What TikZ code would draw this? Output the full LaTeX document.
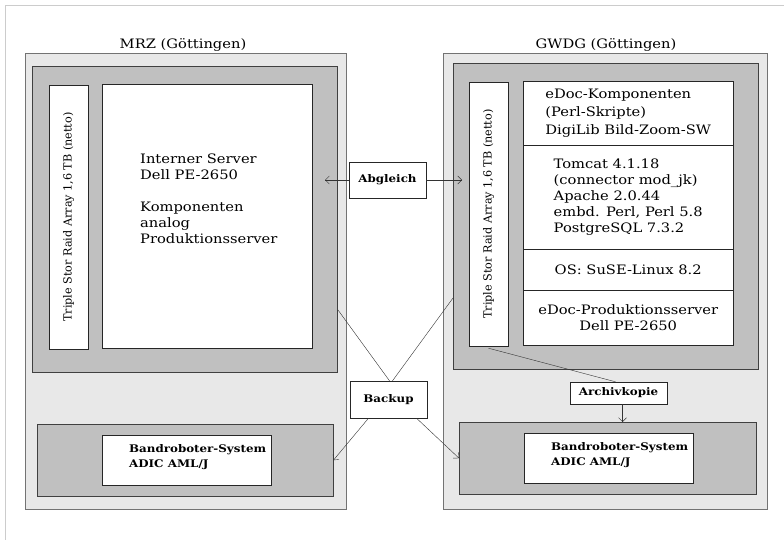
\documentclass[tikz,border=0pt]{standalone}
\usepackage{fontspec}
\setmainfont{DejaVu Serif}[FakeStretch=1.13]
\newfontfamily\storefont{DejaVu Serif}
\usetikzlibrary{arrows.meta}
\definecolor{sitegray}{HTML}{E8E8E8}
\definecolor{rackgray}{HTML}{C0C0C0}

\begin{document}
\begin{tikzpicture}
[x=1pt,y=-1pt,>={Straight Barb[length=4pt,width=8pt]},
every node/.style={font=\fontsize{13}{16}\selectfont},
site/.style={rectangle,draw=black!55,fill=sitegray,anchor=north west,inner sep=0pt},
rack/.style={rectangle,draw=black!75,fill=rackgray,anchor=north west,inner sep=0pt},
panel/.style={rectangle,draw=black!85,fill=white,anchor=north west,inner sep=0pt,align=left},
store/.style={rectangle,draw=black!85,fill=white,inner sep=0pt,rotate=90,minimum height=39pt,font=\storefont\fontsize{11.2}{13}\selectfont},
tag/.style={rectangle,draw=black!85,fill=white,inner sep=0pt,font=\fontsize{10.5}{14}\bfseries\selectfont},
txt/.style={anchor=north west,inner sep=0pt,align=left},
robotxt/.style={txt,font=\fontsize{10.5}{15}\bfseries\selectfont},
link/.style={draw=black!80,thin}]

\useasboundingbox (0,0) rectangle (784,540);
\draw[black!20] (5,540) -- (5,5) -- (784,5);

% MRZ
\node (mrztitle) at (183,45) {MRZ (Göttingen)};
\node[site,minimum width=321pt,minimum height=456pt] (mrz) at (25,53) {};
\node[rack,minimum width=305pt,minimum height=306pt] (mrzrack) at (32,66) {};
\node[store,minimum width=264pt] (mrzstor) at (68.5,217) {Triple Stor Raid Array 1,6 TB (netto)};
\node[panel,minimum width=210pt,minimum height=264pt] (mrzsrv) at (102,84) {};
\node[txt] (mrzsrvtxt) at (140,154) {Interner Server\\Dell PE-2650\\[16pt]Komponenten\\analog\\Produktionsserver};
\node[rack,minimum width=296pt,minimum height=72pt] (mrzband) at (37,424) {};
\node[panel,minimum width=169pt,minimum height=50pt] (mrzrobo) at (102,435) {};
\node[robotxt] (mrzrobotxt) at (129,444) {Bandroboter-System\\ADIC AML/J};

% GWDG
\node (gwdgtitle) at (606,45) {GWDG (Göttingen)};
\node[site,minimum width=324pt,minimum height=456pt] (gwdg) at (443,53) {};
\node[rack,minimum width=305pt,minimum height=306pt] (gwdgrack) at (453,63) {};
\node[store,minimum width=264pt] (gwdgstor) at (488.5,214) {Triple Stor Raid Array 1,6 TB (netto)};
\node[panel,minimum width=210pt,minimum height=64pt,font=\fontsize{13}{18}\selectfont] (comp) at (523,81) {eDoc-Komponenten\\(Perl-Skripte)\\DigiLib Bild-Zoom-SW};
\node[panel,minimum width=210pt,minimum height=104pt] (soft) at (523,145) {Tomcat 4.1.18\\(connector mod\_jk)\\Apache 2.0.44\\embd. Perl, Perl 5.8\\PostgreSQL 7.3.2};
\node[panel,minimum width=210pt,minimum height=41pt] (os) at (523,249) {OS: SuSE-Linux 8.2};
\node[panel,minimum width=210pt,minimum height=55pt,align=center] (prod) at (523,290) {eDoc-Produktionsserver\\Dell PE-2650};
\node[rack,minimum width=297pt,minimum height=72pt] (gwdgband) at (459,422) {};
\node[panel,minimum width=169pt,minimum height=50pt] (gwdgrobo) at (524,433) {};
\node[robotxt] (gwdgrobotxt) at (551,442) {Bandroboter-System\\ADIC AML/J};

% Verbindungen
\node[tag,minimum width=77pt,minimum height=36pt] (abgl) at (387.5,180) {Abgleich};
\node[tag,minimum width=77pt,minimum height=37pt] (backup) at (388.5,399.5) {Backup};
\node[tag,minimum width=97pt,minimum height=22pt] (archiv) at (618.5,393) {Archivkopie};

\coordinate (mrzin) at (325,180);
\coordinate (gwdgin) at (462,180);
\coordinate (mrzout) at (338,310);
\coordinate (gwdgout) at (453,298);

\draw[link,->] (abgl.west) -- (mrzin);
\draw[link,->] (abgl.east) -- (gwdgin);
\draw[link] (mrzout) -- ([xshift=1pt]backup.north);
\draw[link] (gwdgout) -- ([xshift=4pt]backup.north);
\draw[link,->] ([xshift=-20pt]backup.south) -- (mrzband.east);
\draw[link,->] ([xshift=28pt]backup.south) -- (gwdgband.west);
\draw[link] ([yshift=-2pt]gwdgstor.west) -- ([xshift=-3pt]archiv.north);
\draw[link,->] ([xshift=4pt]archiv.south) -- ([xshift=4pt]archiv.south |- gwdgband.north);
\end{tikzpicture}
\end{document}
